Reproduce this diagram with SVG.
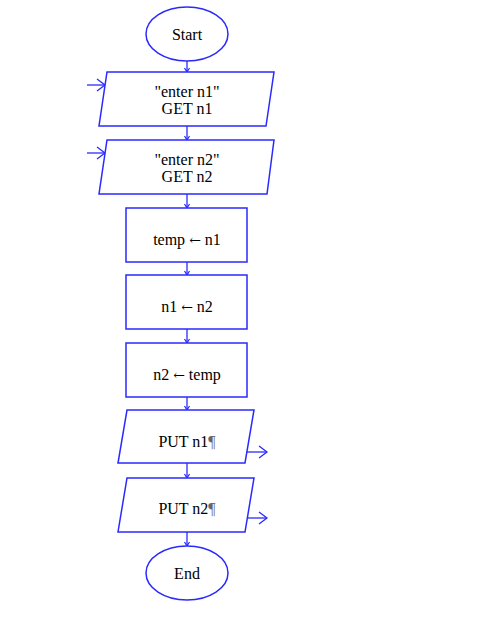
<svg xmlns="http://www.w3.org/2000/svg" width="499" height="617" viewBox="0 0 499 617">
<style>
.s{fill:#fff;stroke:#2a2aff;stroke-width:1.5}
.c{fill:none;stroke:#2a2aff;stroke-width:1.3}
.t{font-family:"Liberation Serif",serif;font-size:16px;fill:#000;text-anchor:middle}
.ar{font-family:"DejaVu Serif",serif;font-size:14px}
.p{fill:#666}
</style>
<defs>
<marker id="a" markerWidth="8" markerHeight="8" refX="5" refY="4" orient="auto" markerUnits="userSpaceOnUse">
<path d="M1,1.5 L5,4 L1,6.5" fill="none" stroke="#2a2aff" stroke-width="1.2"/>
</marker>
<marker id="b" markerWidth="14" markerHeight="14" refX="10" refY="7" orient="auto" markerUnits="userSpaceOnUse">
<path d="M2,1 L10,7 L2,13" fill="none" stroke="#2a2aff" stroke-width="1.3"/>
</marker>
</defs>
<rect width="499" height="617" fill="#fff"/>
<g id="connectors">
<line class="c" x1="187" y1="61" x2="187" y2="72" marker-end="url(#a)"/>
<line class="c" x1="187" y1="126" x2="187" y2="140" marker-end="url(#a)"/>
<line class="c" x1="187" y1="194" x2="187" y2="208" marker-end="url(#a)"/>
<line class="c" x1="187" y1="262" x2="187" y2="275" marker-end="url(#a)"/>
<line class="c" x1="187" y1="329" x2="187" y2="343" marker-end="url(#a)"/>
<line class="c" x1="187" y1="397" x2="187" y2="410" marker-end="url(#a)"/>
<line class="c" x1="187" y1="463" x2="187" y2="478" marker-end="url(#a)"/>
<line class="c" x1="187" y1="532" x2="187" y2="546" marker-end="url(#a)"/>
<line class="c" x1="87" y1="85" x2="105" y2="85" marker-end="url(#b)"/>
<line class="c" x1="87" y1="153" x2="105" y2="153" marker-end="url(#b)"/>
<line class="c" x1="245" y1="452" x2="267" y2="452" marker-end="url(#b)"/>
<line class="c" x1="245" y1="518" x2="267" y2="518" marker-end="url(#b)"/>
</g>
<g id="start">
<ellipse class="s" cx="187" cy="34" rx="41" ry="27"/>
<text class="t" x="187" y="40">Start</text>
</g>
<g id="input1">
<polygon class="s" points="107,72 274,72 266,126 99,126"/>
<text class="t" x="187" y="97">"enter n1"</text>
<text class="t" x="187" y="114">GET n1</text>
</g>
<g id="input2">
<polygon class="s" points="107,140 274,140 267,194 99,194"/>
<text class="t" x="187" y="165">"enter n2"</text>
<text class="t" x="187" y="182">GET n2</text>
</g>
<g id="assign1">
<rect class="s" x="126" y="208" width="121" height="54"/>
<text class="t" x="187" y="245">temp <tspan class="ar">←</tspan> n1</text>
</g>
<g id="assign2">
<rect class="s" x="126" y="275" width="121" height="54"/>
<text class="t" x="187" y="312">n1 <tspan class="ar">←</tspan> n2</text>
</g>
<g id="assign3">
<rect class="s" x="126" y="343" width="121" height="54"/>
<text class="t" x="187" y="380">n2 <tspan class="ar">←</tspan> temp</text>
</g>
<g id="output1">
<polygon class="s" points="127,410 254,410 245,463 118,463"/>
<text class="t" x="187" y="447">PUT n1<tspan class="p">¶</tspan></text>
</g>
<g id="output2">
<polygon class="s" points="127,478 254,478 245,532 118,532"/>
<text class="t" x="187" y="514">PUT n2<tspan class="p">¶</tspan></text>
</g>
<g id="end">
<ellipse class="s" cx="187" cy="573" rx="41" ry="27"/>
<text class="t" x="187" y="579">End</text>
</g>
</svg>
